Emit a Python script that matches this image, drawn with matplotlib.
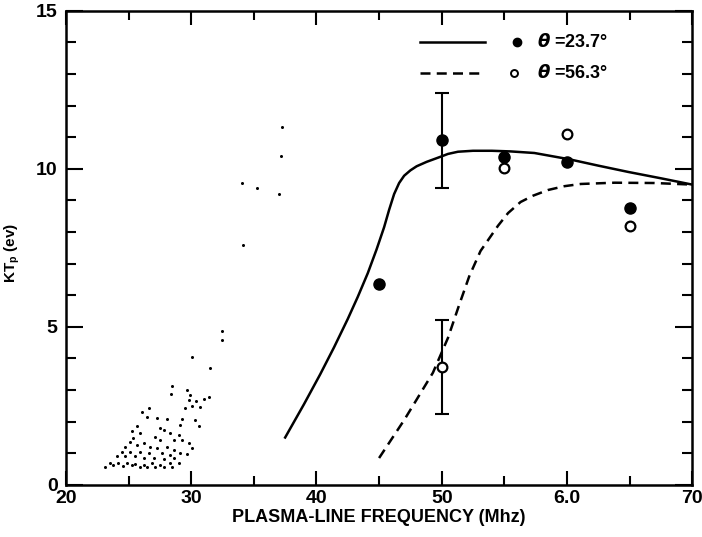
import numpy as np
import matplotlib.pyplot as plt
from matplotlib.ticker import MultipleLocator, FixedLocator, FixedFormatter

plt.rcParams['font.family'] = ['Liberation Sans', 'DejaVu Sans']
plt.rcParams['font.weight'] = 'bold'
plt.rcParams['axes.labelweight'] = 'bold'

# measured temperatures, theta = 23.7 deg (filled) and 56.3 deg (open)
f_fill = [45, 50, 55, 60, 65]
kt_fill = [6.35, 10.9, 10.38, 10.2, 8.77]
f_open = [50, 55, 60, 65]
kt_open = [3.73, 10.03, 11.1, 8.2]

# error bars on the 50 MHz points
f_err = [50, 50]
kt_err = [10.9, 3.73]
err = [1.5, 1.5]

# computed curves
f_solid = [37.5, 39.0, 40.3, 41.4, 42.5, 43.3, 44.1, 44.8, 45.4, 45.8,
           46.2, 46.6, 47.0, 47.5, 48.0, 48.8, 49.9, 50.5, 51.3, 52.5,
           54.0, 55.5, 57.4, 60.2, 62.5, 64.9, 67.5, 70.0]
kt_solid = [1.5, 2.55, 3.5, 4.35, 5.25, 5.95, 6.7, 7.45, 8.15, 8.7,
            9.2, 9.55, 9.78, 9.95, 10.08, 10.22, 10.38, 10.47, 10.54, 10.57,
            10.57, 10.55, 10.5, 10.3, 10.1, 9.9, 9.7, 9.5]
f_dash = [45.0, 46.0, 47.0, 48.0, 49.3, 50.5, 51.4, 52.2, 53.1, 54.5,
          55.3, 56.3, 57.3, 58.5, 59.8, 61.1, 63.8, 67.0, 70.0]
kt_dash = [0.85, 1.45, 2.05, 2.7, 3.55, 4.65, 5.7, 6.6, 7.4, 8.2,
           8.6, 8.95, 9.15, 9.33, 9.45, 9.52, 9.56, 9.55, 9.5]

# stippled specks in the lower left
f_dots = [37.28, 37.2, 34.08, 35.28, 37.04, 34.16,
          32.45, 32.45, 30.05, 31.52, 28.45, 28.40, 29.65, 29.87, 31.39, 30.99,
          30.40, 29.79, 30.05, 29.52, 30.72, 26.59, 26.05, 26.45, 27.25, 28.05,
          29.25, 29.12, 30.32, 30.59, 25.65, 25.25, 27.52, 27.79, 28.32, 28.99,
          25.92, 25.39, 25.12, 27.12, 27.52, 28.59, 29.25, 29.79, 30.05, 24.72,
          25.65, 26.19, 26.72, 27.25, 28.05, 28.59, 24.45, 25.12, 25.92, 26.59,
          27.65, 28.32, 29.12, 29.65, 24.05, 24.72, 25.52, 26.19, 26.99, 27.79,
          28.59, 23.52, 24.19, 24.85, 25.52, 26.19, 26.85, 27.52, 28.32, 28.99,
          23.12, 23.79, 24.59, 25.25, 25.92, 26.45, 27.12, 27.79, 28.45]
kt_dots = [11.33, 10.41, 9.56, 9.40, 9.21, 7.59,
           4.88, 4.59, 4.06, 3.69, 3.13, 2.87, 3.00, 2.85, 2.79, 2.71,
           2.67, 2.69, 2.50, 2.43, 2.48, 2.43, 2.32, 2.14, 2.11, 2.09,
           2.08, 1.90, 2.06, 1.87, 1.85, 1.69, 1.79, 1.74, 1.63, 1.58,
           1.63, 1.48, 1.37, 1.53, 1.42, 1.42, 1.42, 1.32, 1.16, 1.21,
           1.27, 1.32, 1.21, 1.16, 1.21, 1.11, 1.05, 1.05, 1.05, 1.00,
           1.00, 0.95, 1.00, 0.98, 0.90, 0.90, 0.90, 0.84, 0.84, 0.81,
           0.84, 0.69, 0.69, 0.69, 0.66, 0.63, 0.69, 0.63, 0.69, 0.69,
           0.58, 0.63, 0.61, 0.63, 0.58, 0.58, 0.58, 0.56, 0.58]

x_ticks = [20, 30, 40, 50, 60, 70]
x_labels = ['20', '30', '40', '50', '6.0', '70']
y_ticks = [0, 5, 10, 15]

fig = plt.figure(figsize=(7.02, 5.37), dpi=100)
ax = fig.add_axes([0.094, 0.097, 0.892, 0.883])

ax.plot(f_dots, kt_dots, 'o', color='k', ms=2.2, mew=0)
ax.plot(f_solid, kt_solid, '-', color='k', lw=1.8)
ax.plot(f_dash, kt_dash, '--', color='k', lw=1.8, dashes=(4, 2.5))
ax.errorbar(f_err, kt_err, yerr=err, fmt='none', ecolor='k', elinewidth=1.5,
            capsize=4.7, capthick=1.5)
ax.plot(f_fill, kt_fill, 'o', color='k', ms=8)
ax.plot(f_open, kt_open, 'o', mfc='white', mec='k', mew=1.6, ms=7)

ax.set_xlim(20, 70)
ax.set_ylim(0, 15)
ax.xaxis.set_major_locator(FixedLocator(x_ticks))
ax.xaxis.set_major_formatter(FixedFormatter(x_labels))
ax.xaxis.set_minor_locator(MultipleLocator(5))
ax.yaxis.set_major_locator(FixedLocator(y_ticks))
ax.yaxis.set_minor_locator(MultipleLocator(1))
ax.tick_params(which='both', direction='in', top=True, right=True,
               width=1.5, labelsize=14)
ax.tick_params(axis='x', which='major', length=10, pad=4)
ax.tick_params(axis='x', which='minor', length=6.5)
ax.tick_params(axis='y', which='major', length=12, pad=6)
ax.tick_params(axis='y', which='minor', length=7)
for sp in ax.spines.values():
    sp.set_linewidth(1.8)

ax.set_xlabel('PLASMA-LINE FREQUENCY (Mhz)', fontsize=13, labelpad=1)
ax.set_ylabel('KT$_\\mathregular{p}$ (ev)', fontsize=11)
ax.yaxis.set_label_coords(-0.07, 0.49)

# key in the upper right
ax.plot([0.565, 0.669], [0.935, 0.935], '-', color='k', lw=1.8,
        transform=ax.transAxes)
ax.plot([0.565, 0.669], [0.869, 0.869], '--', color='k', lw=1.8,
        dashes=(4, 2.5), transform=ax.transAxes)
ax.plot([0.72], [0.935], 'o', color='k', ms=6, transform=ax.transAxes)
ax.plot([0.716], [0.869], 'o', mfc='white', mec='k', mew=1.4, ms=5,
        transform=ax.transAxes)
ax.text(0.752, 0.935, '$\\theta$ =23.7°', fontsize=13, va='center',
        transform=ax.transAxes)
ax.text(0.752, 0.869, '$\\theta$ =56.3°', fontsize=13, va='center',
        transform=ax.transAxes)

fig.savefig('out.png', dpi=100)
